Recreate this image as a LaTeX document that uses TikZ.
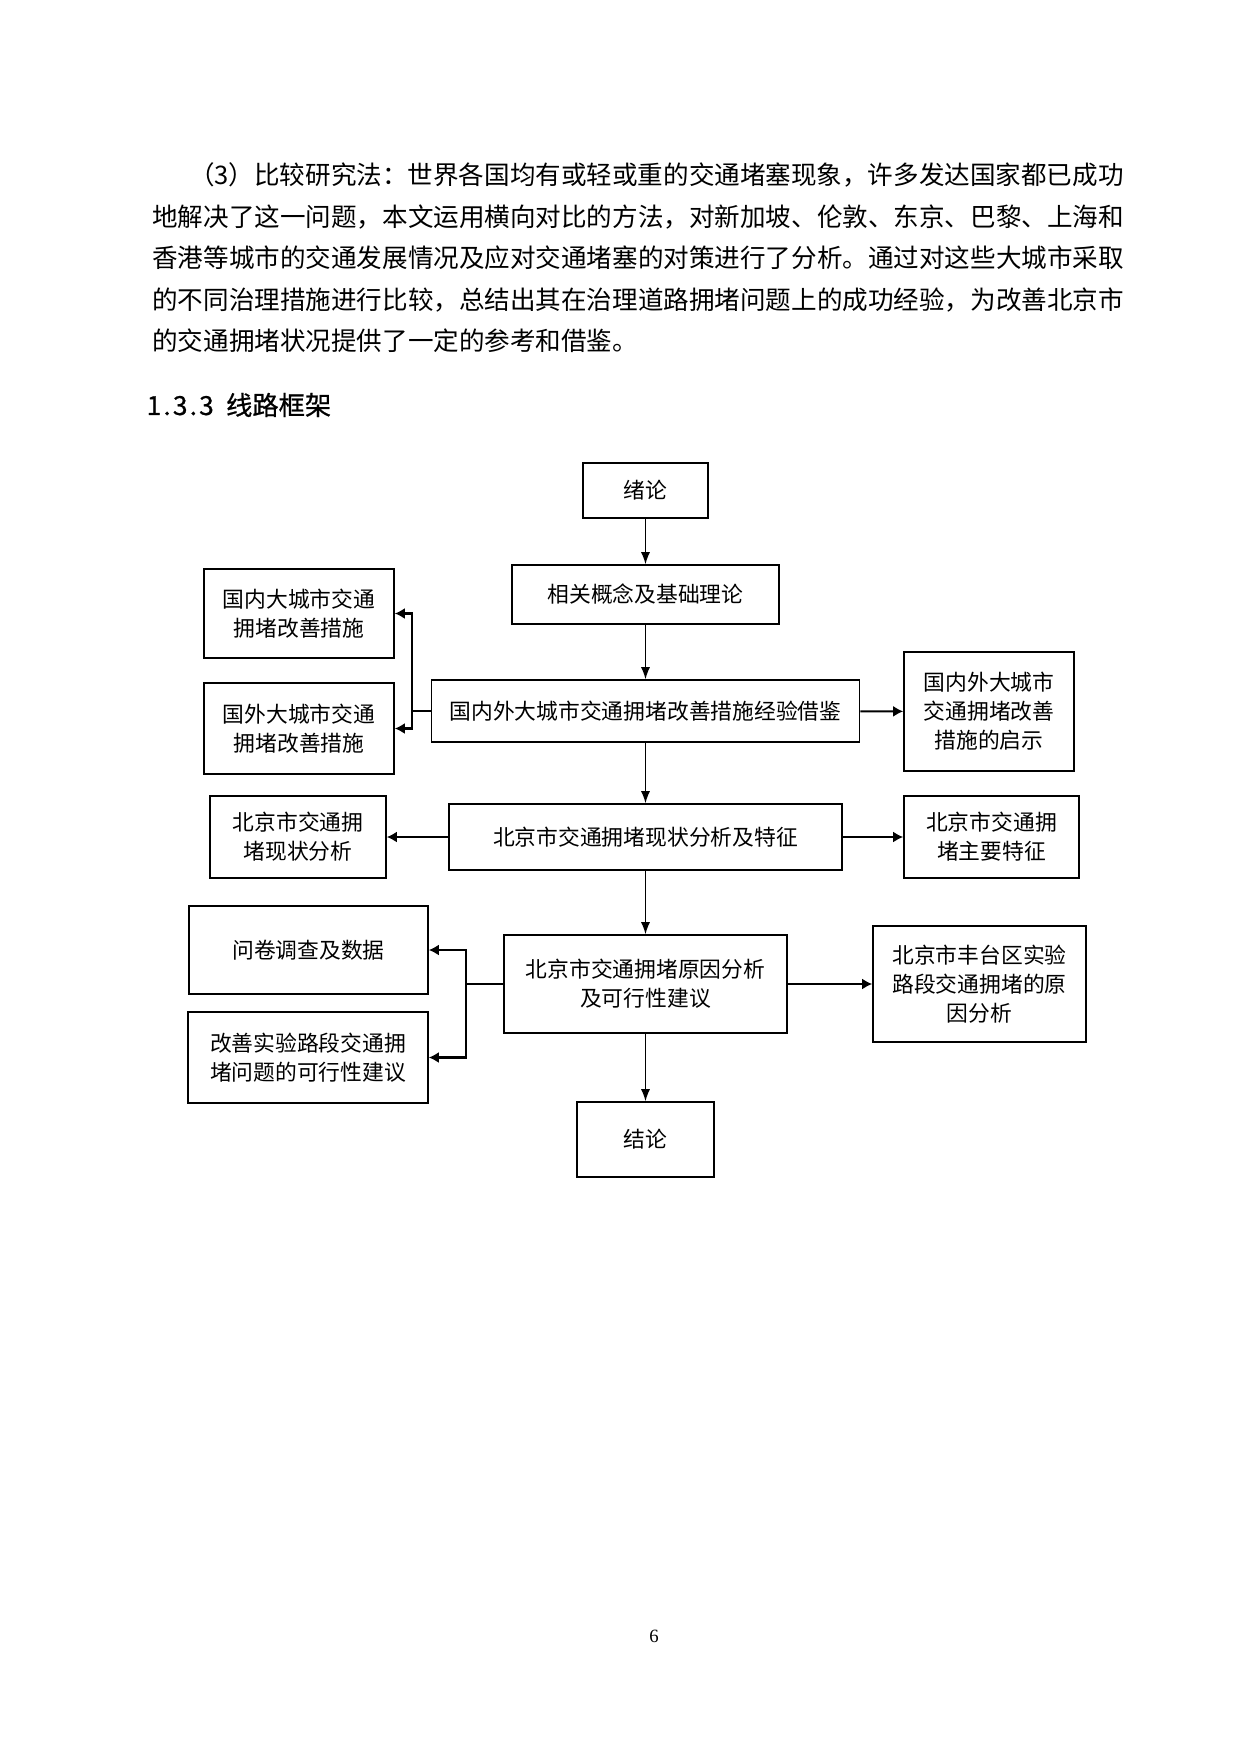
\documentclass[tikz,border=0pt]{standalone}
\usepackage{fontspec}
\setmainfont{Liberation Serif}
\newfontfamily\cjk{Noto Sans CJK SC}
\newfontfamily\cjktitre{Noto Sans CJK SC}[FakeBold=0.8]
\usepackage{tikz}
\usetikzlibrary{arrows.meta,positioning}
\newcommand\demi[1]{\makebox[0.5em]{#1}}

\begin{document}
\begin{tikzpicture}[x=0.48bp,y=-0.48bp,
	cadre/.style 2 args={draw,line width=0.8pt,align=center,inner sep=0pt,
		minimum width=#1*0.48bp,minimum height=#2*0.48bp,
		font=\cjk\fontsize{10.45bp}{13.9bp}\selectfont},
	ligne/.style={inner sep=0pt,font=\cjk\fontsize{12.27bp}{20bp}\selectfont},
	fleche/.style={-{Latex[length=5.8bp,width=4.4bp]},line width=0.6pt},
	branche/.style={-{Latex[length=4.8bp,width=5.3bp]},line width=1pt}]
	\def\xc{645.5}
\useasboundingbox (0,0) rectangle (1240,1754);

%Texte
\node[ligne,anchor=east] (l1) at (1124,175) {（3）比较研究法：世界各国均有或轻或重的交通堵塞现象，许多发达国家都已成功};
\node[ligne,anchor=west] (l2) at (152,217) {地解决了这一问题，本文运用横向对比的方法，对新加坡、伦敦、东京、巴黎、上海和};
\node[ligne,anchor=west] (l3) at (152,258) {香港等城市的交通发展情况及应对交通堵塞的对策进行了分析。通过对这些大城市采取};
\node[ligne,anchor=west] (l4) at (152,300) {的不同治理措施进行比较，总结出其在治理道路拥堵问题上的成功经验，为改善北京市};
\node[ligne,anchor=west] (l5) at (152,341) {的交通拥堵状况提供了一定的参考和借鉴。};
\node[inner sep=0pt,font=\cjktitre\fontsize{12.6bp}{20bp}\selectfont,anchor=west] (titre) at (147,405)
	{\demi{1}\demi{.}\demi{3}\demi{.}\demi{3}\demi{~}线路框架};

%Colonne centrale
\node[cadre={125}{55}] (intro) at (\xc,490.5) {绪论};
\node[cadre={267}{59}] (theorie) at (\xc,594.5) {相关概念及基础理论};
\node[cadre={428}{62}] (exp) at (\xc,711) {国内外大城市交通拥堵改善措施经验借鉴};
\node[cadre={393}{66}] (etat) at (\xc,837) {北京市交通拥堵现状分析及特征};
\node[cadre={283}{98}] (cause) at (\xc,984) {北京市交通拥堵原因分析\\及可行性建议};
\node[cadre={137}{75}] (concl) at (\xc,1139.5) {结论};

%Cadres lateraux
\node[cadre={190}{89}] (interieur) at (299,613.5) {国内大城市交通\\拥堵改善措施};
\node[cadre={190}{91}] (etranger) at (299,728.5) {国外大城市交通\\拥堵改善措施};
\node[cadre={170}{119}] (lecons) at (989,711.5) {国内外大城市\\交通拥堵改善\\措施的启示};
\node[cadre={176}{82}] (actuel) at (298,837) {北京市交通拥\\堵现状分析};
\node[cadre={175}{82}] (traits) at (991.5,837) {北京市交通拥\\堵主要特征};
\node[cadre={239}{88}] (enquete) at (308.5,950) {问卷调查及数据};
\node[cadre={240}{91}] (conseil) at (308,1057.5) {改善实验路段交通拥\\堵问题的可行性建议};
\node[cadre={213}{116}] (fengtai) at (979.5,984) {北京市丰台区实验\\路段交通拥堵的原\\因分析};

%Numero de page
\node[font=\fontsize{9bp}{11bp}\selectfont] (page) at (654,1636) {6};

%Fleches verticales
\draw[fleche] (intro) -- (theorie);
\draw[fleche] (theorie) -- (exp);
\draw[fleche] (exp) -- (etat);
\draw[fleche] (etat) -- (cause);
\draw[fleche] (cause) -- (concl);

%Branches
\coordinate (P) at (412,711);
\coordinate (Q) at (466,984);
\draw[line width=1pt] (exp.west) -- (P);
\draw[branche] (P) |- (interieur.east);
\draw[branche] (P) |- (etranger.east);
\draw[branche] (exp) -- (lecons);
\draw[branche] (etat) -- (actuel);
\draw[branche] (etat) -- (traits);
\draw[line width=1pt] (cause.west) -- (Q);
\draw[branche] (Q) |- (enquete.east);
\draw[branche] (Q) |- (conseil.east);
\draw[branche] (cause) -- (fengtai);

\end{tikzpicture}
\end{document}
